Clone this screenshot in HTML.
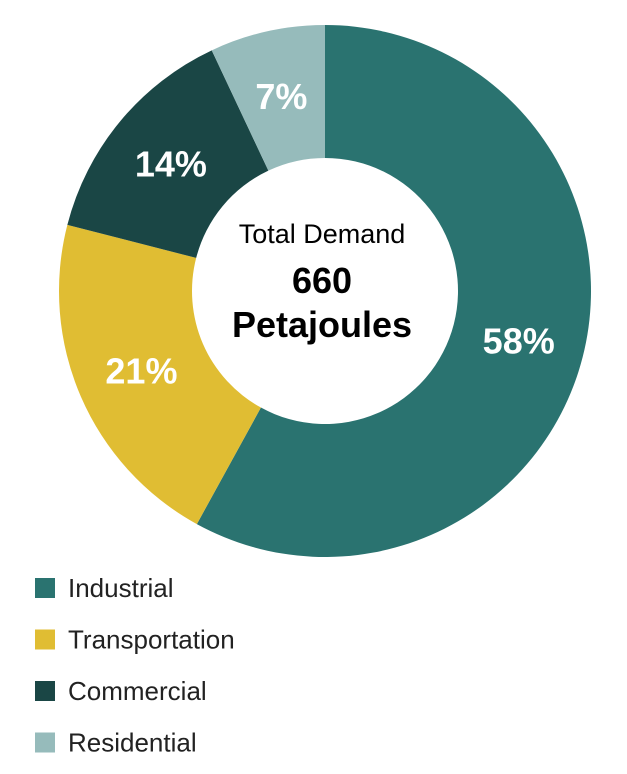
<!DOCTYPE html>
<html><head><meta charset="utf-8"><style>
body{margin:0;background:#fff;font-family:"Liberation Sans",sans-serif;}
</style></head><body>
<svg width="627" height="769">
<g id="slices"></g>
<g id="labels"></g>
<text x="322" y="243" text-anchor="middle" font-size="27" fill="#000">Total Demand</text>
<text x="322" y="293" text-anchor="middle" font-size="36" font-weight="bold" fill="#000">660</text>
<text x="322" y="337" text-anchor="middle" font-size="36" font-weight="bold" fill="#000">Petajoules</text>
<g id="legend"></g>
</svg>
<script>
const categories=["Industrial","Transportation","Commercial","Residential"];
const values=[58,21,14,7];
const colors=["#2a7370","#e0bd33","#1a4645","#96bbbb"];
const ns="http://www.w3.org/2000/svg";
const cx=325,cy=291,R=266,r=133,LR=200;
const total=values.reduce((a,b)=>a+b,0);
function pt(a,rad){return [cx+rad*Math.sin(a),cy-rad*Math.cos(a)];}
let acc=0;
const sg=document.getElementById('slices'),lg=document.getElementById('labels'),leg=document.getElementById('legend');
values.forEach((v,i)=>{
 const a0=acc/total*2*Math.PI;acc+=v;const a1=acc/total*2*Math.PI;
 const large=(a1-a0)>Math.PI?1:0;
 const [x0,y0]=pt(a0,R),[x1,y1]=pt(a1,R),[x2,y2]=pt(a1,r),[x3,y3]=pt(a0,r);
 const p=document.createElementNS(ns,'path');
 p.setAttribute('d',`M${x0},${y0}A${R},${R} 0 ${large} 1 ${x1},${y1}L${x2},${y2}A${r},${r} 0 ${large} 0 ${x3},${y3}Z`);
 p.setAttribute('fill',colors[i]);
 
 
 sg.appendChild(p);
 const [lx,ly]=pt((a0+a1)/2,LR);
 const t=document.createElementNS(ns,'text');
 t.setAttribute('x',lx);t.setAttribute('y',ly+13);t.setAttribute('text-anchor','middle');
 t.setAttribute('font-size','36');t.setAttribute('font-weight','bold');t.setAttribute('fill','#fff');
 t.textContent=v+'%';
 
 
 lg.appendChild(t);
 const g=document.createElementNS(ns,'g');
 
 
 const y=578+i*51.5;
 const s=document.createElementNS(ns,'rect');
 s.setAttribute('x',35);s.setAttribute('y',y);s.setAttribute('width',20);s.setAttribute('height',20);s.setAttribute('fill',colors[i]);
 const lt=document.createElementNS(ns,'text');
 lt.setAttribute('x',68);lt.setAttribute('y',y+19);lt.setAttribute('font-size','26');lt.setAttribute('fill','#222');
 lt.textContent=categories[i];
 g.appendChild(s);g.appendChild(lt);leg.appendChild(g);
});
</script>
</body></html>
